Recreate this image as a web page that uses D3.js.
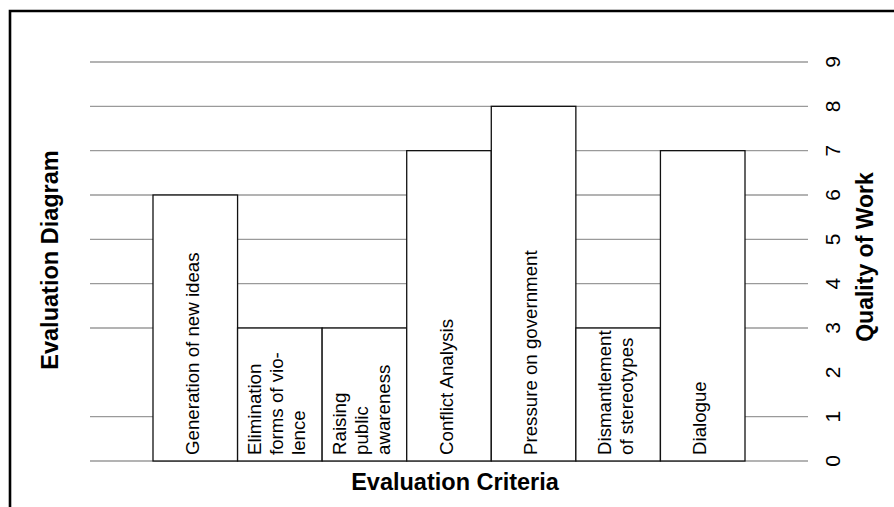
<!DOCTYPE html>
<html>
<head>
<meta charset="utf-8">
<script src="https://cdn.jsdelivr.net/npm/d3@7/dist/d3.min.js"></script>
<style>
  html, body { margin: 0; padding: 0; background: #fff; }
  svg { display: block; font-family: "Liberation Sans", Arial, Helvetica, sans-serif; }
</style>
</head>
<body>
<svg id="chart" width="894" height="507"></svg>
<script>
// ---- data ----
const categories = [
  "Generation of new ideas",
  "Elimination forms of violence",
  "Raising public awareness",
  "Conflict Analysis",
  "Pressure on government",
  "Dismantlement of stereotypes",
  "Dialogue"
];
const labelLines = [
  ["Generation of new ideas"],
  ["Elimination", "forms of vio-", "lence"],
  ["Raising", "public", "awareness"],
  ["Conflict Analysis"],
  ["Pressure on government"],
  ["Dismantlement", "of stereotypes"],
  ["Dialogue"]
];
const values = [6, 3, 3, 7, 8, 3, 7];
const tickValues = [0, 1, 2, 3, 4, 5, 6, 7, 8, 9];
const gridValues = [0, 1, 3, 4, 5, 6, 7, 8, 9];
const xTitle = "Evaluation Criteria";
const leftTitle = "Evaluation Diagram";
const rightTitle = "Quality of Work";

// ---- layout ----
const svg = d3.select("#chart");
const gridX0 = 90, gridX1 = 808;

const x = d3.scaleBand().domain(categories).range([153, 745]).padding(0);
const y = d3.scaleLinear().domain([0, 9]).range([461, 62]);

// frame
svg.append("path")
  .attr("d", "M10,507 L10,11 L894,11")
  .attr("fill", "none").attr("stroke", "#000").attr("stroke-width", 2.6);

// gridlines
svg.append("g").selectAll("line").data(gridValues).join("line")
  .attr("x1", gridX0).attr("x2", gridX1)
  .attr("y1", d => y(d)).attr("y2", d => y(d))
  .attr("stroke", "#9a9a9a").attr("stroke-width", 1.3);

// bars
const bars = svg.append("g").selectAll("g").data(categories).join("g");
bars.append("rect")
  .attr("x", d => x(d))
  .attr("y", (d, i) => y(values[i]))
  .attr("width", x.bandwidth())
  .attr("height", (d, i) => y(0) - y(values[i]))
  .attr("fill", "#fff").attr("stroke", "#111").attr("stroke-width", 1.3);

// bar labels (rotated)
bars.each(function(d, i) {
  const g = d3.select(this);
  const lines = labelLines[i];
  const cx = x(d) + x.bandwidth() / 2;
  const lh = 22;
  lines.forEach((t, j) => {
    const bx = cx + 3.5 + (j - (lines.length - 1) / 2) * lh;
    g.append("text")
      .attr("transform", `translate(${bx},${y(0) - 6}) rotate(-90)`)
      .attr("text-anchor", "start")
      .attr("font-size", 18.7)
      .attr("fill", "#000")
      .text(t);
  });
});

// right axis tick labels
const axis = d3.axisRight(y).tickValues(tickValues).tickSize(0).tickFormat(d3.format("d"));
const ag = svg.append("g").attr("transform", `translate(840,0)`).call(axis);
ag.select(".domain").remove();
ag.selectAll("text")
  .attr("x", 0).attr("dy", null).attr("y", 0)
  .attr("transform", "rotate(-90)")
  .attr("text-anchor", "middle")
  .attr("font-size", 21)
  .attr("font-family", "Liberation Sans, Arial, sans-serif")
  .attr("fill", "#000");
ag.selectAll(".tick").attr("transform", d => `translate(0,${y(d)})`);

// titles
svg.append("text")
  .attr("transform", `translate(58,260) rotate(-90)`)
  .attr("text-anchor", "middle").attr("font-size", 23.5).attr("font-weight", "bold")
  .text(leftTitle);
svg.append("text")
  .attr("transform", `translate(873,257) rotate(-90)`)
  .attr("text-anchor", "middle").attr("font-size", 23).attr("font-weight", "bold")
  .text(rightTitle);
svg.append("text")
  .attr("x", 455).attr("y", 490)
  .attr("text-anchor", "middle").attr("font-size", 23.5).attr("font-weight", "bold")
  .text(xTitle);
</script>
</body>
</html>
